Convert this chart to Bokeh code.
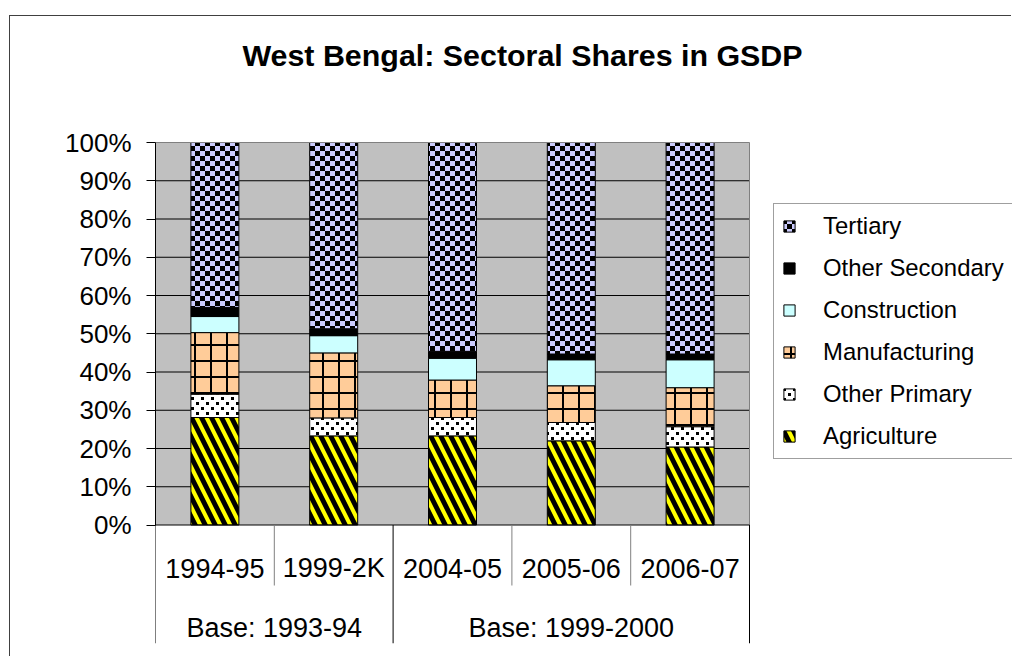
import numpy as np
from bokeh.plotting import figure
from bokeh.models import (Range1d, FixedTicker, NumeralTickFormatter, Legend, LegendItem,
                          CanvasTexture, ColumnDataSource)
from bokeh.core.properties import value
from bokeh.embed import file_html
from bokeh.resources import INLINE

# ---------------- data ----------------
years = ["1994-95", "1999-2K", "2004-05", "2005-06", "2006-07"]
bases = ["Base: 1993-94", "Base: 1993-94", "Base: 1999-2000", "Base: 1999-2000", "Base: 1999-2000"]
sectors = ["Agriculture", "Other Primary", "Manufacturing", "Construction", "Other Secondary", "Tertiary"]
agriculture = [28.1, 23.3, 23.3, 22.0, 20.4]
other_primary = [6.1, 4.7, 4.8, 4.8, 5.3]
manufacturing = [16.1, 17.0, 9.8, 9.6, 10.2]
construction = [4.2, 4.5, 5.7, 6.8, 7.3]
other_secondary = [2.4, 1.8, 1.8, 1.5, 1.5]
tertiary = [43.1, 48.7, 54.6, 55.3, 55.3]
y_ticks = [0.0, 0.1, 0.2, 0.3, 0.4, 0.5, 0.6, 0.7, 0.8, 0.9, 1.0]
title_text = "West Bengal: Sectoral Shares in GSDP"

FONT = "Liberation Sans"

# ---------------- textures ----------------
checker = CanvasTexture(code="""
const c = ctx.canvas;
c.width = 10;
c.height = 10;
ctx.fillStyle = "#000000";
ctx.fillRect(0, 0, 5, 5);
ctx.fillRect(5, 5, 5, 5);
""")
specks = CanvasTexture(code="""
const c = ctx.canvas;
c.width = 10;
c.height = 10;
ctx.fillStyle = "#000000";
ctx.fillRect(1, 1, 3, 3);
ctx.fillRect(6, 6, 3, 3);
""")

styles = [
    dict(fill="#000000", hatch="#FFFF00", pattern="left_diagonal_line", extra=None, scale=20, weight=4),
    dict(fill="#FFFFFF", hatch="#000000", pattern="specks", extra={"specks": specks}, scale=10, weight=1),
    dict(fill="#FFCC99", hatch="#000000", pattern="cross", extra=None, scale=16, weight=2),
    dict(fill="#CCFFFF", pattern=None),
    dict(fill="#000000", pattern=None),
    dict(fill="#CCCCFF", hatch="#000000", pattern="checker", extra={"checker": checker}, scale=10, weight=1),
]

# ---------------- geometry (layout, page px) ----------------
n = len(years)
off_x, off_y = 10, 16            # figure origin on the page (margin + border)
W, H = 1002, 641
frame_left_pg, frame_bottom_pg = 155, 643
zero_pg, hundred_pg = 524.5, 142
px_per_unit_y = zero_pg - hundred_pg
px_per_cat = 118.8

frame_left = frame_left_pg - off_x
frame_bottom = frame_bottom_pg - off_y
y_start = -(frame_bottom_pg - zero_pg) / px_per_unit_y
y_end = 1.0 + (hundred_pg - off_y) / px_per_unit_y
x_end = (W - frame_left) / px_per_cat

def y_of(page_y):
    return (zero_pg - page_y) / px_per_unit_y

def x_of(page_x):
    return (page_x - frame_left_pg) / px_per_cat

p = figure(width=W, height=H, output_backend="svg", toolbar_location=None,
           x_range=Range1d(0, x_end), y_range=Range1d(y_start, y_end),
           x_axis_location=None, min_border_left=frame_left, min_border_right=0,
           min_border_top=0, min_border_bottom=H - frame_bottom)
p.outline_line_color = None
p.background_fill_color = "white"
p.border_fill_color = "white"
p.grid.visible = False
p.styles = {"margin-left": "9px", "margin-top": "15px",
            "border-left": "1px solid #404040", "border-top": "1px solid #404040"}

yax = p.yaxis[0]
yax.ticker = FixedTicker(ticks=y_ticks, minor_ticks=[])
yax.formatter = NumeralTickFormatter(format="0%")
yax.bounds = (0, 1)
yax.axis_line_color = "black"
yax.major_tick_line_color = "black"
yax.major_tick_out = 9
yax.major_tick_in = 0
yax.minor_tick_out = 0
yax.minor_tick_in = 0
yax.major_label_standoff = 15
yax.major_label_text_font = FONT
yax.major_label_text_font_size = "26px"
yax.major_label_text_color = "black"

# title
p.text(x=[x_of(522)], y=[y_of(54.5)], text=[title_text], text_font=value(FONT),
       text_font_size=value("30.4px"), text_font_style="bold",
       text_align="center", text_baseline="middle", text_color="black")

# plot area background
p.quad(left=[0], right=[n], bottom=[0], top=[1], fill_color="#C0C0C0", line_color=None)
# gridlines
gy = y_ticks[1:-1]
p.segment(x0=[0]*len(gy), x1=[n]*len(gy), y0=gy, y1=gy, line_color="black", line_width=1)

# stacked bars
vals = np.array([agriculture, other_primary, manufacturing, construction, other_secondary, tertiary], dtype=float)
totals = vals.sum(axis=0)
shares = vals / totals
tops = np.cumsum(shares, axis=0)
bottoms = tops - shares
xs = [i + 0.5 for i in range(n)]

renderers = []
for k, st in enumerate(styles):
    src = ColumnDataSource(dict(x=xs, bottom=bottoms[k], top=tops[k]))
    kw = dict(fill_color=st["fill"], line_color="black", line_width=1)
    if st["pattern"] is not None:
        kw.update(hatch_pattern=value(st["pattern"]), hatch_color=st["hatch"],
                  hatch_scale=st["scale"], hatch_weight=st["weight"])
        if st["extra"] is not None:
            kw.update(hatch_extra=st["extra"])
    r = p.vbar(x="x", bottom="bottom", top="top", width=0.404, source=src, **kw)
    renderers.append(r)

# plot-area border (top, right) and x axis line
p.segment(x0=[0], x1=[n], y0=[1], y1=[1], line_color="#808080", line_width=1)
p.segment(x0=[n], x1=[n], y0=[0], y1=[1], line_color="#808080", line_width=1)
p.segment(x0=[0], x1=[n], y0=[0], y1=[0], line_color="black", line_width=1)

# category separators
short_end = y_of(585)
long_x, short_x = [], []
for b in range(n + 1):
    if b == 0 or b == n or bases[b - 1] != bases[b]:
        long_x.append(b)
    else:
        short_x.append(b)
p.segment(x0=long_x, x1=long_x, y0=[0]*len(long_x), y1=[y_start]*len(long_x), line_color="black", line_width=1)
p.segment(x0=short_x, x1=short_x, y0=[0]*len(short_x), y1=[short_end]*len(short_x), line_color="#808080", line_width=1)

# category labels
row1 = y_of(567.5)
row2 = y_of(627)
p.text(x=xs, y=[row1]*n, text=years, text_font=value(FONT), text_font_size=value("27px"),
       text_align="center", text_baseline="middle", text_color="black")
groups = []
for b in bases:
    if b not in groups:
        groups.append(b)
gx = [float(np.mean([xs[i] for i in range(n) if bases[i] == g])) for g in groups]
p.text(x=gx, y=[row2]*len(groups), text=groups, text_font=value(FONT), text_font_size=value("27px"),
       text_align="center", text_baseline="middle", text_color="black")

# legend
items = [LegendItem(label=s, renderers=[r]) for s, r in reversed(list(zip(sectors, renderers)))]
legend = Legend(items=items, location=(773 - frame_left_pg, frame_bottom_pg - 459), orientation="vertical",
                label_text_font=FONT, label_text_font_size="23.9px", label_text_color="black",
                glyph_width=14, glyph_height=14, label_height=26, label_standoff=27,
                spacing=14, padding=8, margin=0,
                border_line_color="#404040", border_line_width=1,
                background_fill_color="white", background_fill_alpha=1.0)
p.add_layout(legend)

open("out.html", "w").write(file_html(p, INLINE))
